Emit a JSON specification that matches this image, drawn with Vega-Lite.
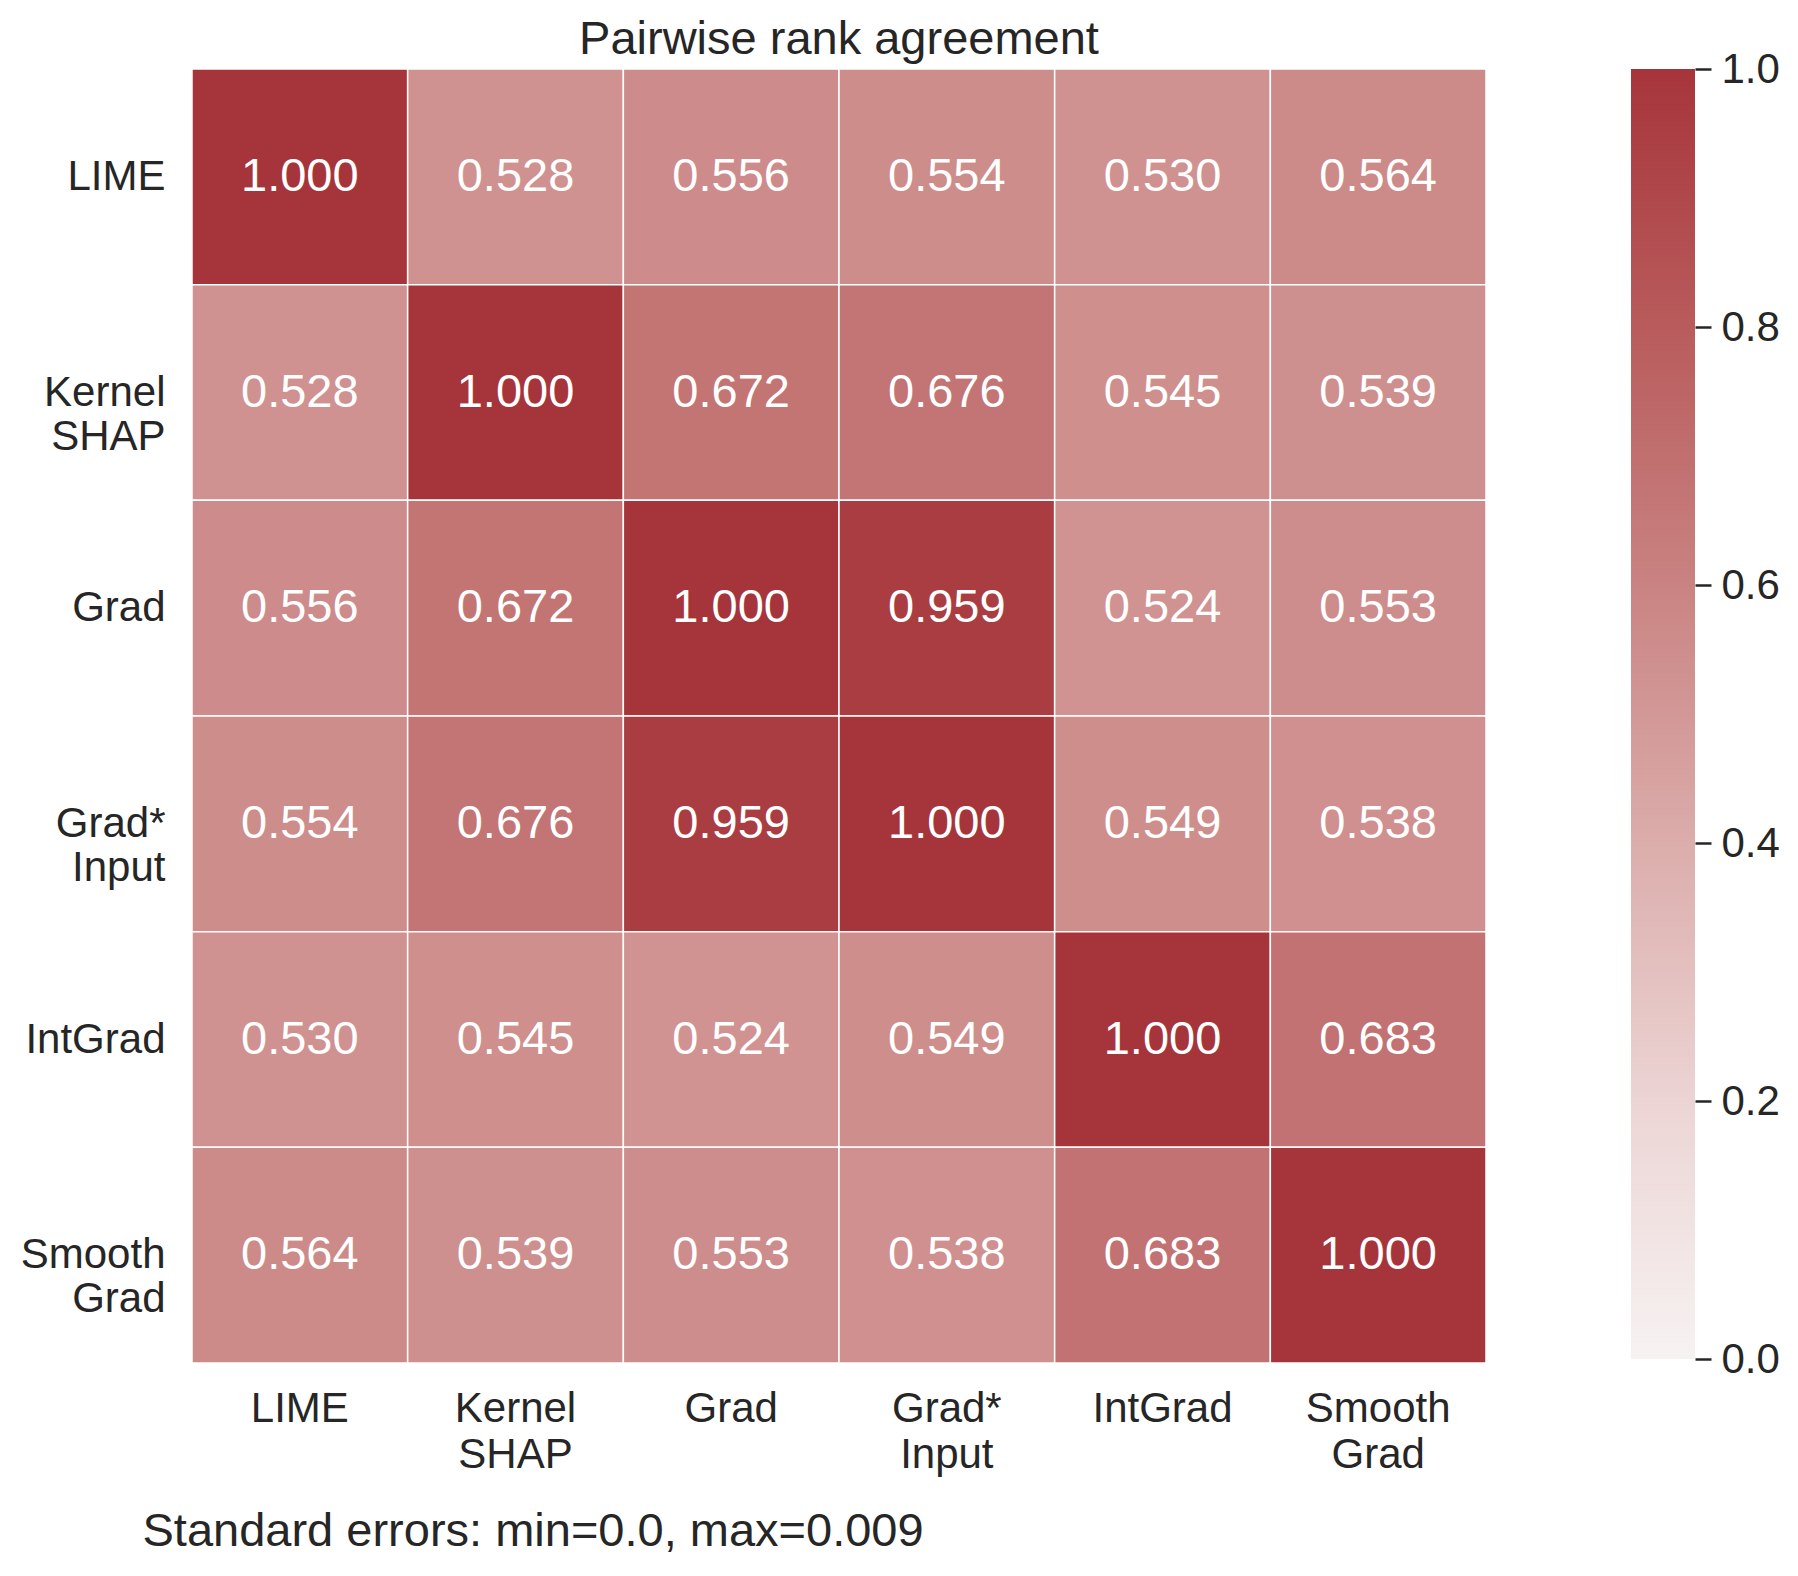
{
  "$schema": "https://vega.github.io/schema/vega-lite/v6.json",
  "background": "white",
  "padding": {"left": 20, "top": 16, "right": 5, "bottom": 5},
  "bounds": "flush",
  "spacing": 145,
  "config": {
    "font": "Liberation Sans",
    "view": {"stroke": null},
    "axis": {"labelColor": "#262626", "titleColor": "#262626", "grid": false, "domain": false, "labelFont": "Liberation Sans", "titleFont": "Liberation Sans"},
    "title": {"color": "#262626", "font": "Liberation Sans", "fontWeight": "normal"}
  },
  "hconcat": [
    {
      "width": 1294,
      "height": 1294,
      "title": {"text": "Pairwise rank agreement", "fontSize": 47, "anchor": "middle", "offset": 4},
      "data": {
        "values": [
          {"row": "LIME", "col": "LIME", "value": 1.000},
          {"row": "LIME", "col": "Kernel SHAP", "value": 0.528},
          {"row": "LIME", "col": "Grad", "value": 0.556},
          {"row": "LIME", "col": "Grad* Input", "value": 0.554},
          {"row": "LIME", "col": "IntGrad", "value": 0.530},
          {"row": "LIME", "col": "Smooth Grad", "value": 0.564},
          {"row": "Kernel SHAP", "col": "LIME", "value": 0.528},
          {"row": "Kernel SHAP", "col": "Kernel SHAP", "value": 1.000},
          {"row": "Kernel SHAP", "col": "Grad", "value": 0.672},
          {"row": "Kernel SHAP", "col": "Grad* Input", "value": 0.676},
          {"row": "Kernel SHAP", "col": "IntGrad", "value": 0.545},
          {"row": "Kernel SHAP", "col": "Smooth Grad", "value": 0.539},
          {"row": "Grad", "col": "LIME", "value": 0.556},
          {"row": "Grad", "col": "Kernel SHAP", "value": 0.672},
          {"row": "Grad", "col": "Grad", "value": 1.000},
          {"row": "Grad", "col": "Grad* Input", "value": 0.959},
          {"row": "Grad", "col": "IntGrad", "value": 0.524},
          {"row": "Grad", "col": "Smooth Grad", "value": 0.553},
          {"row": "Grad* Input", "col": "LIME", "value": 0.554},
          {"row": "Grad* Input", "col": "Kernel SHAP", "value": 0.676},
          {"row": "Grad* Input", "col": "Grad", "value": 0.959},
          {"row": "Grad* Input", "col": "Grad* Input", "value": 1.000},
          {"row": "Grad* Input", "col": "IntGrad", "value": 0.549},
          {"row": "Grad* Input", "col": "Smooth Grad", "value": 0.538},
          {"row": "IntGrad", "col": "LIME", "value": 0.530},
          {"row": "IntGrad", "col": "Kernel SHAP", "value": 0.545},
          {"row": "IntGrad", "col": "Grad", "value": 0.524},
          {"row": "IntGrad", "col": "Grad* Input", "value": 0.549},
          {"row": "IntGrad", "col": "IntGrad", "value": 1.000},
          {"row": "IntGrad", "col": "Smooth Grad", "value": 0.683},
          {"row": "Smooth Grad", "col": "LIME", "value": 0.564},
          {"row": "Smooth Grad", "col": "Kernel SHAP", "value": 0.539},
          {"row": "Smooth Grad", "col": "Grad", "value": 0.553},
          {"row": "Smooth Grad", "col": "Grad* Input", "value": 0.538},
          {"row": "Smooth Grad", "col": "IntGrad", "value": 0.683},
          {"row": "Smooth Grad", "col": "Smooth Grad", "value": 1.000}
        ]
      },
      "encoding": {
        "x": {
          "field": "col", "type": "nominal",
          "sort": ["LIME", "Kernel SHAP", "Grad", "Grad* Input", "IntGrad", "Smooth Grad"],
          "scale": {"paddingInner": 0, "paddingOuter": 0},
          "axis": {
            "orient": "bottom", "labelAngle": 0, "ticks": false, "labelPadding": 25,
            "labelFontSize": 42, "labelLineHeight": 46,
            "labelExpr": "split(datum.label, ' ')",
            "title": "Standard errors: min=0.0, max=0.009",
            "titleFontSize": 47, "titleFontWeight": "normal",
            "titleAnchor": "start", "titleAlign": "left", "titleBaseline": "alphabetic",
            "titleX": -50, "titleY": 182
          }
        },
        "y": {
          "field": "row", "type": "nominal",
          "sort": ["LIME", "Kernel SHAP", "Grad", "Grad* Input", "IntGrad", "Smooth Grad"],
          "scale": {"paddingInner": 0, "paddingOuter": 0},
          "axis": {
            "orient": "left", "title": null, "ticks": false, "labelPadding": 27,
            "labelFontSize": 42, "labelLineHeight": 44,
            "labelExpr": "split(datum.label, ' ')"
          }
        }
      },
      "layer": [
        {
          "mark": {"type": "rect", "stroke": "white", "strokeWidth": 1.5},
          "encoding": {
            "color": {
              "field": "value", "type": "quantitative",
              "scale": {
                "domain": [0, 0.2, 0.4, 0.6, 0.8, 1.0],
                "range": ["#f7f2f2", "#ecd4d4", "#dbadab", "#c98382", "#b95b5c", "#a6353b"],
                "interpolate": "rgb"
              },
              "legend": null
            }
          }
        },
        {
          "mark": {"type": "text", "color": "white", "fontSize": 47, "baseline": "middle", "align": "center"},
          "encoding": {
            "text": {"field": "value", "type": "quantitative", "format": ".3f"}
          }
        }
      ]
    },
    {
      "width": 64,
      "height": 1290,
      "data": {"values": [{"lo": 0, "hi": 1, "left": 0, "right": 1}]},
      "mark": {
        "type": "rect",
        "color": {
          "gradient": "linear", "x1": 0, "y1": 1, "x2": 0, "y2": 0,
          "stops": [
            {"offset": 0, "color": "#f7f2f2"},
            {"offset": 0.2, "color": "#ecd4d4"},
            {"offset": 0.4, "color": "#dbadab"},
            {"offset": 0.6, "color": "#c98382"},
            {"offset": 0.8, "color": "#b95b5c"},
            {"offset": 1, "color": "#a6353b"}
          ]
        }
      },
      "encoding": {
        "x": {"field": "left", "type": "quantitative", "scale": {"domain": [0, 1], "nice": false}, "axis": null},
        "x2": {"field": "right"},
        "y": {
          "field": "lo", "type": "quantitative",
          "scale": {"domain": [0, 1], "nice": false},
          "axis": {
            "orient": "right", "title": null, "values": [0, 0.2, 0.4, 0.6, 0.8, 1.0], "format": ".1f",
            "tickSize": 16, "tickWidth": 2.5, "tickColor": "#262626",
            "labelFontSize": 42, "labelPadding": 10, "labelFlush": false
          }
        },
        "y2": {"field": "hi"}
      }
    }
  ]
}
